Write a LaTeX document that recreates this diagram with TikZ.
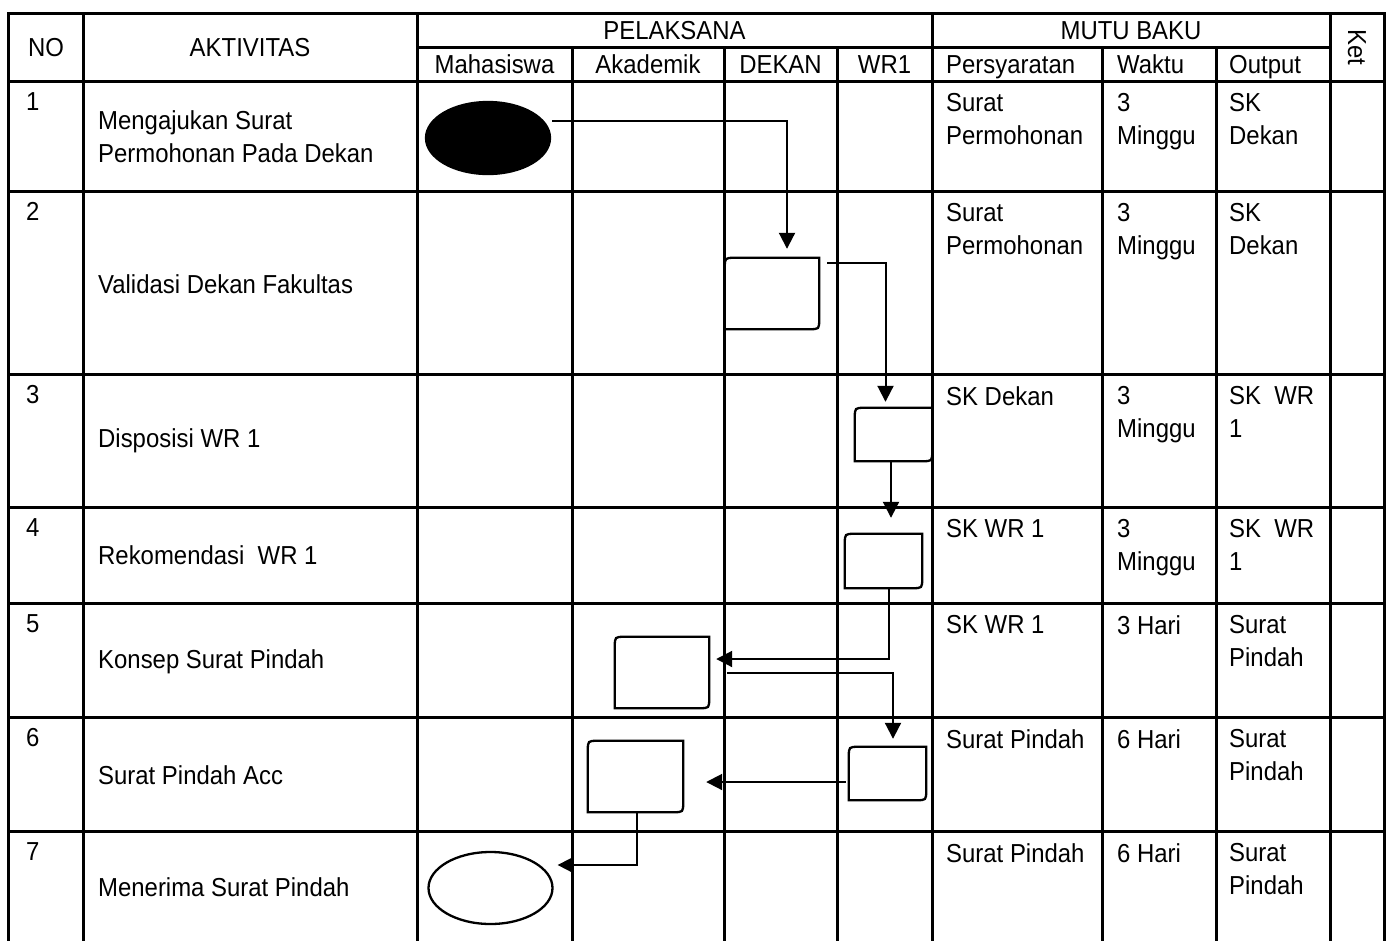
\documentclass[tikz,border=0pt]{standalone}
\usepackage{fontspec}
\setmainfont{Liberation Sans}[FakeStretch=0.92]
\usetikzlibrary{shapes.geometric,arrows.meta}
\newcommand\flowbox[1]{\draw[boxline] (#1.south west) -- ([yshift=-10pt]#1.north west) .. controls (#1.north west) .. ([xshift=10pt]#1.north west) -- (#1.north east) -- ([yshift=10pt]#1.south east) .. controls (#1.south east) .. ([xshift=-10pt]#1.south east) -- cycle;}
\begin{document}
\begin{tikzpicture}[x=1pt,y=-1pt,
  tblline/.style={line width=3pt, line cap=rect},
  txt/.style={font=\fontsize{26}{33}\selectfont, inner sep=0pt, align=left},
  boxline/.style={line width=2.3pt},
  procbox/.style={rectangle, draw=none, inner sep=0pt},
  term/.style={ellipse, line width=2.3pt, minimum width=124pt, minimum height=72pt, inner sep=0pt},
  arr/.style={line width=2pt, -{Triangle[length=16pt,width=16pt]}}]
\useasboundingbox (0,0) rectangle (1389,940);
% table
\foreach \x in {8,83,417,932,1330,1384} \draw[tblline] (\x,13) -- (\x,940);
\foreach \x in {572,724,837,1102,1216} \draw[tblline] (\x,47) -- (\x,940);
\draw[tblline] (8,13) -- (1384,13);
\draw[tblline] (417,47) -- (1330,47);
\foreach \y in {81,191,374,507,603,717,831} \draw[tblline] (8,\y) -- (1384,\y);
% header
\node[txt,anchor=base] (hNo) at (46,56) {NO};
\node[txt,anchor=base] (hAkt) at (250,56) {AKTIVITAS};
\node[txt,anchor=base] (hPel) at (674.5,39) {PELAKSANA};
\node[txt,anchor=base] (hMutu) at (1131,39) {MUTU BAKU};
\node[txt,rotate=-90] (hKet) at (1357,47) {Ket};
\node[txt,anchor=base] (hMhs) at (494.5,73) {Mahasiswa};
\node[txt,anchor=base] (hAkd) at (648,73) {Akademik};
\node[txt,anchor=base] (hDek) at (780.5,73) {DEKAN};
\node[txt,anchor=base] (hWr) at (884.5,73) {WR1};
\node[txt,anchor=base west] (hPer) at (946,73) {Persyaratan};
\node[txt,anchor=base west] (hWak) at (1117,73) {Waktu};
\node[txt,anchor=base west] (hOut) at (1229,73) {Output};
% numbers
\node[txt,anchor=north west] (n1) at (26,92) {1};
\node[txt,anchor=north west] (n2) at (26,202) {2};
\node[txt,anchor=north west] (n3) at (26,385) {3};
\node[txt,anchor=north west] (n4) at (26,518) {4};
\node[txt,anchor=north west] (n5) at (26,614) {5};
\node[txt,anchor=north west] (n6) at (26,728) {6};
\node[txt,anchor=north west] (n7) at (26,842) {7};
% activities
\node[txt,anchor=west] (a1) at (98,137) {Mengajukan Surat\\Permohonan Pada Dekan};
\node[txt,anchor=west] (a2) at (98,284) {Validasi Dekan Fakultas};
\node[txt,anchor=west] (a3) at (98,441) {Disposisi WR 1};
\node[txt,anchor=west] (a4) at (98,555) {Rekomendasi~ WR 1};
\node[txt,anchor=west] (a5) at (98,662) {Konsep Surat Pindah};
\node[txt,anchor=west] (a6) at (98,775) {Surat Pindah Acc};
\node[txt,anchor=west] (a7) at (98,887) {Menerima Surat Pindah};
% persyaratan
\node[txt,anchor=north west] (p1) at (946,93) {Surat\\Permohonan};
\node[txt,anchor=north west] (p2) at (946,203) {Surat\\Permohonan};
\node[txt,anchor=north west] (p3) at (946,386) {SK Dekan};
\node[txt,anchor=north west] (p4) at (946,519) {SK WR 1};
\node[txt,anchor=north west] (p5) at (946,615) {SK WR 1};
\node[txt,anchor=north west] (p6) at (946,729) {Surat Pindah};
\node[txt,anchor=north west] (p7) at (946,843) {Surat Pindah};
% waktu
\node[txt,anchor=north west] (w1) at (1117,93) {3\\Minggu};
\node[txt,anchor=north west] (w2) at (1117,203) {3\\Minggu};
\node[txt,anchor=north west] (w3) at (1117,386) {3\\Minggu};
\node[txt,anchor=north west] (w4) at (1117,519) {3\\Minggu};
\node[txt,anchor=north west] (w5) at (1117,615) {3 Hari};
\node[txt,anchor=north west] (w6) at (1117,729) {6 Hari};
\node[txt,anchor=north west] (w7) at (1117,843) {6 Hari};
% output
\node[txt,anchor=north west] (o1) at (1229,93) {SK\\Dekan};
\node[txt,anchor=north west] (o2) at (1229,203) {SK\\Dekan};
\node[txt,anchor=north west] (o3) at (1229,386) {SK~ WR\\1};
\node[txt,anchor=north west] (o4) at (1229,519) {SK~ WR\\1};
\node[txt,anchor=north west] (o5) at (1229,615) {Surat\\Pindah};
\node[txt,anchor=north west] (o6) at (1229,729) {Surat\\Pindah};
\node[txt,anchor=north west] (o7) at (1229,843) {Surat\\Pindah};
% flow shapes
\node[term, fill=black, draw=black] (start) at (488,138) {};
\node[term, draw=black, fill=white] (finish) at (490.5,888) {};
\node[procbox, minimum width=94pt, minimum height=71pt] (dek2) at (772,293.5) {};
\node[procbox, minimum width=77pt, minimum height=53pt] (wr3) at (893.5,434.5) {};
\node[procbox, minimum width=77pt, minimum height=54pt] (wr4) at (883.5,561) {};
\node[procbox, minimum width=94pt, minimum height=71pt] (akd5) at (662,672.5) {};
\node[procbox, minimum width=77pt, minimum height=53pt] (wr6) at (887.5,773.5) {};
\node[procbox, minimum width=95pt, minimum height=71pt] (akd6) at (635.5,776.5) {};
\flowbox{dek2}
\flowbox{wr3}
\flowbox{wr4}
\flowbox{akd5}
\flowbox{wr6}
\flowbox{akd6}
% connectors
\draw[arr] ([xshift=1pt,yshift=17pt]start.east) -| ([xshift=15pt,yshift=9pt]dek2.north);
\draw[arr] ([xshift=8pt,yshift=-5pt]dek2.north east) -| ([xshift=-8pt,yshift=6pt]wr3.north);
\draw[arr] ([xshift=-2.5pt]wr3.south) -- ([xshift=7.5pt,yshift=16pt]wr4.north);
\draw[arr] ([xshift=5.5pt]wr4.south) |- ([xshift=7pt,yshift=13.5pt]akd5.east);
\draw[arr] ([xshift=18pt]akd5.east) -| ([xshift=5.5pt,yshift=8pt]wr6.north);
\draw[arr] ([xshift=-3pt,yshift=-8.5pt]wr6.west) -- ([xshift=23pt,yshift=-5.5pt]akd6.east);
\draw[arr] ([xshift=1.5pt]akd6.south) |- ([xshift=4pt,yshift=23pt]finish.east);
\end{tikzpicture}
\end{document}
